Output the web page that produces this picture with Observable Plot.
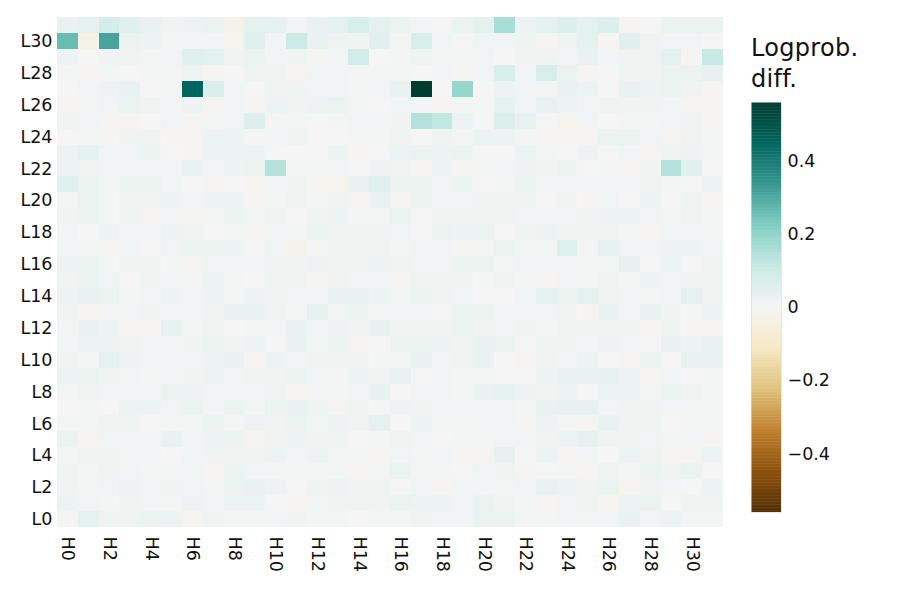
<!DOCTYPE html>
<html>
<head>
<meta charset="utf-8">
<script src="https://cdn.jsdelivr.net/npm/d3@7"></script>
<script src="https://cdn.jsdelivr.net/npm/@observablehq/plot@0.6"></script>
<style>
  body { margin: 0; background: #fff; }
  #wrap { position: relative; width: 897px; height: 598px; font-family: "DejaVu Sans", sans-serif; color: #111; }
  #main { position: absolute; left: 0; top: 0; }
  #bar { position: absolute; left: 751px; top: 92px; }
  #title { position: absolute; left: 751px; top: 33px; font-size: 24px; line-height: 31px; letter-spacing: 0.3px; }
</style>
</head>
<body>
<div id="wrap">
  <div id="main"></div>
  <div id="title">Logprob.<br>diff.</div>
  <div id="bar"></div>
</div>
<script>
// Categories
const heads = ["H0","H1","H2","H3","H4","H5","H6","H7","H8","H9","H10","H11","H12","H13","H14","H15",
               "H16","H17","H18","H19","H20","H21","H22","H23","H24","H25","H26","H27","H28","H29","H30","H31"];
const layers = ["L0","L1","L2","L3","L4","L5","L6","L7","L8","L9","L10","L11","L12","L13","L14","L15",
                "L16","L17","L18","L19","L20","L21","L22","L23","L24","L25","L26","L27","L28","L29","L30","L31"];
// Tick labels
const headTicks = ["H0","H2","H4","H6","H8","H10","H12","H14","H16","H18","H20","H22","H24","H26","H28","H30"];
const layerTicks = ["L0","L2","L4","L6","L8","L10","L12","L14","L16","L18","L20","L22","L24","L26","L28","L30"];
const colorTicks = [-0.4, -0.2, 0, 0.2, 0.4];
const colorDomain = [-0.56, 0.56];
// BrBG colour stops (evenly spaced across the colour domain)
const brbgColors = ["rgb(84,48,5)","rgb(140,81,10)","rgb(191,129,45)","rgb(223,194,125)","rgb(246,232,195)",
                    "rgb(245,245,245)","rgb(199,234,229)","rgb(128,205,193)","rgb(53,151,143)","rgb(1,102,94)","rgb(0,60,48)"];

// Logprob. diff. values, one row per layer, listed from L31 (top) down to L0; columns H0..H31
const diffRows = [
/*L31*/[0.03,0.04,0.08,0.05,0.03,0.015,0.02,0.025, -0.03,0.04,0.04,0.01,0.03,0.04,0.07,0.04, 0.025,0.01,0,0.025,0.04,0.16,0.02,0.04, 0.06,0.04,0.06,-0.005,0,0.025,0.025,0.025],
/*L30*/[0.26,-0.03,0.31,0.025,0.02,0.005,0.01,0.01, -0.02,0.05,0.01,0.10,0.03,0.015,0.015,0.05, 0.005,0.07,0.01,0,0.01,0.01,0.015,-0.01, 0.015,0.04,-0.01,0.05,0.015,0.01,0.01,0],
/*L29*/[0.02,0,0.015,0.015,0.005,0.01,0.05,0.045, 0.015,0.025,0.01,0.015,-0.005,0.01,0.085,0, 0.005,0.015,0.005,0.005,0.01,0,0.015,0.015, 0.01,0.03,0.01,0.015,0.015,0.04,-0.005,0.11],
/*L28*/[0.005,-0.005,0.005,0,0.005,0.005,0.015,-0.01, 0,0.015,0.015,-0.005,0.01,0.01,0.005,0.005, 0.005,0,0.01,-0.005,0.01,0.07,0.01,0.07, 0.025,-0.005,0,0.015,0.015,0.025,0.025,0.035],
/*L27*/[0,0.01,0.02,0.03,0,0.005,0.45,0.07, 0.01,0,0.015,0.015,0.01,0.01,0.005,0.01, 0.03,0.56,0,0.19,0,0.02,0.01,0.005, 0.03,0.02,0,0.03,0.02,0.025,0.015,-0.005],
/*L26*/[-0.005,0.005,0.01,0.025,0.015,0.01,0.02,-0.005, 0.01,-0.005,0.02,0.015,0.02,0.025,0.005,0, 0.01,0.01,-0.005,0.005,0,0.04,0.01,0.03, 0.02,0.01,0.015,0.015,0.015,0.01,-0.005,-0.005],
/*L25*/[0.015,0.01,-0.005,-0.005,0,0.01,-0.005,0.005, 0.01,0.06,0.005,0.005,0,0.005,0.01,0.01, 0.015,0.14,0.12,0.02,0,0.06,0.03,0, -0.015,0.01,0,0.005,0.005,0.01,0.015,-0.005],
/*L24*/[0,0.005,-0.005,0.015,0.015,-0.01,-0.005,0.02, 0.02,0.005,0.01,0.015,0,0,0.005,0.005, 0.015,0,0.015,0.005,0.02,0.02,0.005,-0.005, -0.005,-0.005,0.025,0.025,0.01,-0.005,0.015,0.005],
/*L23*/[0.02,0.04,0.01,0.01,0.025,0,-0.005,0.02, 0.02,0.02,0,0,0,0.02,-0.005,0, 0.02,0.025,0.02,0.025,0,0,0.02,0.005, 0,0.02,0,0.01,-0.005,0.015,0.02,0.005],
/*L22*/[0.02,0.015,0.01,0.01,0.01,0.01,0.03,0.01, 0.02,0.025,0.14,0.005,0.005,0.01,0,0.02, 0.015,-0.005,0.02,-0.005,0.005,0.01,0.02,0.015, 0.025,0,0.005,-0.005,0.015,0.14,0.05,0],
/*L21*/[0.05,0.025,0.005,0.025,0.025,0.01,0,-0.005, 0,-0.01,0.01,0.015,-0.005,-0.02,0.03,0.055, 0.025,0.025,0.01,0.025,0,0.005,0.025,0.01, 0.01,0.01,0.01,0.01,0.015,0.005,0,0.02],
/*L20*/[0.005,0.025,0.005,0.015,0.015,0.02,0.01,0.02, 0.02,-0.005,0.005,0.015,0.005,0.015,-0.01,0.03, -0.005,0.025,0.01,0.01,0.015,0.015,0.015,0, 0.015,-0.005,0.01,0,0.02,0,0.015,-0.01],
/*L19*/[0.015,0.025,0.005,0.015,-0.005,0.01,-0.01,0.005, 0.025,0.005,0.015,0,0.015,0.02,0.005,0.005, 0.025,0,0.015,0.015,0.015,0.015,0.01,0.01, 0.01,0.015,0.02,0.02,0.01,0.005,0.015,0.005],
/*L18*/[0.01,0,0.02,0.01,0.01,0.02,0.015,0, 0.005,-0.01,0.01,0.005,0.025,0.015,0.015,0.015, 0.01,0,0.025,0.02,0.025,0,0.015,0.02, 0.015,0.015,0.015,0.005,-0.01,0.01,0.01,0.005],
/*L17*/[0.01,0.005,-0.01,0.01,0,0.01,0.025,0.025, 0.02,0,0.01,-0.025,0.005,0.015,0.015,0.015, 0.005,0.01,0.01,-0.005,0.005,0.025,0.005,0.005, 0.055,0.005,0.035,0.01,0.01,0.02,0.02,0.01],
/*L16*/[0.02,0.025,0.005,0.015,0.015,0.005,-0.01,0.01, 0.01,0.01,0.015,0.015,0.02,0.015,0.015,0.02, 0.015,0.01,0.01,0.025,0.025,0.005,0.01,0.01, 0.01,0.005,0.005,0.035,0,0.02,0,0.015],
/*L15*/[0.015,0.025,0.01,0,0.015,0.01,0.005,0.02, 0.005,0,0.015,0.015,-0.01,0.015,0.01,0.01, -0.005,0.015,0.015,0.015,0.005,0.015,0.005,-0.005, 0.01,0.005,0.015,0.005,0.02,0.01,0.015,0.015],
/*L14*/[0.02,0.03,0.025,0.005,0.01,0.02,0.01,0.02, 0.005,0.02,0.015,0.01,0.01,0.03,0.03,0.02, 0.005,0.025,0.015,0.01,0,0,0.01,0.04, 0.025,0.04,0.015,0.01,0.005,0.01,0.04,0.015],
/*L13*/[0.015,-0.01,0.005,0.01,0.015,0.01,0.01,0.015, 0.03,0.03,0.015,0.005,0.035,0.005,0.025,0.005, 0.01,0.01,0,0.025,0.025,0.01,0.01,0.01, 0.015,-0.01,0.03,0.01,0.03,0.015,0.005,0.02],
/*L12*/[0.005,0.03,0.02,-0.005,-0.005,0.035,0.005,0.015, 0,0.005,0.01,0.03,0.01,0.02,0.015,0.035, 0.015,0.015,0.015,0.025,0.015,0.01,0.015,0.005, 0.015,0.015,0.015,0.015,-0.01,0.015,-0.005,-0.005],
/*L11*/[0.01,0.02,0.02,0.015,0.01,0.01,0.015,0.025, 0.015,0.02,0,0.03,0.005,0.025,-0.005,0, 0.025,0.025,0.02,0.015,0.03,0.025,0,0.015, 0.015,0.01,0.02,0.01,0,0.03,0.02,0.03],
/*L10*/[0.015,0.005,0.04,0.02,0.01,0.01,0.01,0.02, 0.03,-0.005,0.02,0.01,0.015,0.015,0.015,0.005, 0.005,0.03,0.01,0.015,0.03,0,-0.005,0.015, 0.01,0.02,0,-0.005,0.025,0,0.03,0.03],
/*L9*/ [0.02,0.025,0.015,0.01,0.005,0.01,0.015,0.02, 0.01,0.015,0.015,0.025,0.01,0.005,0.02,0.015, 0.03,0,0.01,0.005,0.005,0,0,0.02, 0.03,0.03,0.035,0.02,-0.005,0.01,0,0.005],
/*L8*/ [0.005,0.015,0.01,0.01,0.01,0.025,0.02,0.01, 0.01,0.01,0.015,-0.01,0.005,0.005,0.01,0.035, 0,0.01,0.01,0.005,0.03,0.04,0.02,0.015, 0.02,0,0.02,0.02,0.005,0.025,0.015,0.005],
/*L7*/ [0,0.005,0,0.02,0.02,0.01,0.025,0.01, 0.025,0.005,0.025,0.03,0.015,-0.005,0.015,0.005, 0.02,0.015,0.01,0.01,0.01,0.01,0.005,0.03, 0.035,0.035,0.01,0.015,0.015,0.01,0.005,0.005],
/*L6*/ [0.005,0.005,0.015,0.015,0,0.005,0.005,0.025, 0.005,0.02,0.015,0.025,0.005,0.02,0.015,0.04, 0,0.02,0.005,0.005,0.01,0.01,-0.005,0.02, 0.005,-0.005,0.03,0.015,0.015,0,0.005,0.005],
/*L5*/ [0.025,-0.005,0.01,0.01,0.01,0.03,0.01,0.02, 0.025,-0.01,0.015,0.02,0.015,0.015,0,0.005, 0.015,0.01,0,0.005,0.005,0.01,0.01,0.015, 0.02,0.035,0.015,0.015,0.01,0.005,0.01,-0.005],
/*L4*/ [0.005,0.015,0.015,0.01,0.01,0,0.01,0.015, 0.015,0.015,0.02,0.01,0.02,0.005,0.005,-0.005, 0.01,0.005,0.01,-0.005,-0.01,0.035,0,0.02, -0.005,0.01,0,0.02,0.015,-0.01,-0.01,0.02],
/*L3*/ [0.015,0.005,0.015,0.01,0.005,0.005,0.01,-0.01, 0.025,0.01,0.005,0.005,0.005,0.005,-0.005,0.005, 0.025,0.005,0.005,0,0.01,0.015,-0.005,0, 0.005,-0.005,0.015,0.005,0.025,0.015,0.025,0],
/*L2*/ [0.015,0.005,0.01,0.02,0.01,0.015,0.01,0.005, 0.025,0.03,0.02,0,0.015,0.02,0.015,0.015, 0,0.01,-0.01,0.01,0.01,0.005,0.01,0.03, 0.02,0.015,0.025,-0.01,0.015,0.01,0,0.02],
/*L1*/ [0.02,0.01,0.005,0.015,0.01,0.005,0.02,0.01, 0.02,0.02,0,-0.01,0.005,0.015,0.015,0.015, 0.025,0.02,0.02,0.01,0.025,0.015,0.005,-0.005, 0.01,0.015,-0.01,0.02,0.025,0,0.015,0.015],
/*L0*/ [0.005,0.04,0.015,0.015,0.025,0.02,-0.01,0.015, 0.005,0.005,0.01,0.015,0.005,0.005,0,0.005, 0.005,0.015,0.01,0.01,0.025,0.025,0.005,0.005, 0.01,0.005,0.01,0.03,0.01,0.02,0.005,0.005]
];

const cells = [];
diffRows.forEach((row, i) => row.forEach((v, j) => cells.push({head: heads[j], layer: layers[31 - i], value: v})));

const FONT = "'DejaVu Sans', sans-serif";
const colorStopValues = brbgColors.map((_, i) => colorDomain[0] + (colorDomain[1] - colorDomain[0]) * i / (brbgColors.length - 1));
const colorScale = {type: "linear", domain: colorStopValues, range: brbgColors, interpolate: "rgb", clamp: true};

const main = Plot.plot({
  width: 897,
  height: 598,
  marginLeft: 57,
  marginRight: 174,
  marginTop: 17,
  marginBottom: 71,
  style: {fontFamily: FONT, fontSize: "17.5px", color: "#111", background: "transparent", overflow: "visible"},
  x: {domain: heads, padding: 0, round: false, label: null, ticks: headTicks, tickRotate: 90, tickSize: 0, tickPadding: 9},
  y: {domain: layers.slice().reverse(), padding: 0, round: false, label: null, ticks: layerTicks, tickSize: 0, tickPadding: 5},
  color: colorScale,
  marks: [
    Plot.cell(cells, {x: "head", y: "layer", fill: "value", shapeRendering: "crispEdges"})
  ]
});
document.getElementById("main").appendChild(main);

// Colour bar legend drawn with Plot on the same colour scale
const rampStep = 0.004;
const ramp = d3.range(colorDomain[0], colorDomain[1], rampStep);
const bar = Plot.plot({
  width: 130,
  height: 430,
  marginTop: 10,
  marginBottom: 10,
  marginLeft: 0,
  marginRight: 100,
  style: {fontFamily: FONT, fontSize: "17.5px", color: "#111", background: "transparent", overflow: "visible"},
  x: {domain: [0, 1], axis: null},
  y: {domain: colorDomain, axis: "right", ticks: colorTicks, tickSize: 0, tickPadding: 6, label: null,
      tickFormat: d => d === 0 ? "0" : d3.format(".1f")(d)},
  color: colorScale,
  marks: [
    Plot.rect(ramp, {x1: 0, x2: 1, y1: d => d, y2: d => Math.min(d + rampStep * 1.3, colorDomain[1]), fill: d => d + rampStep / 2}),
    Plot.frame({stroke: "#d9d9d9", strokeWidth: 0.6})
  ]
});
document.getElementById("bar").appendChild(bar);
</script>
</body>
</html>
